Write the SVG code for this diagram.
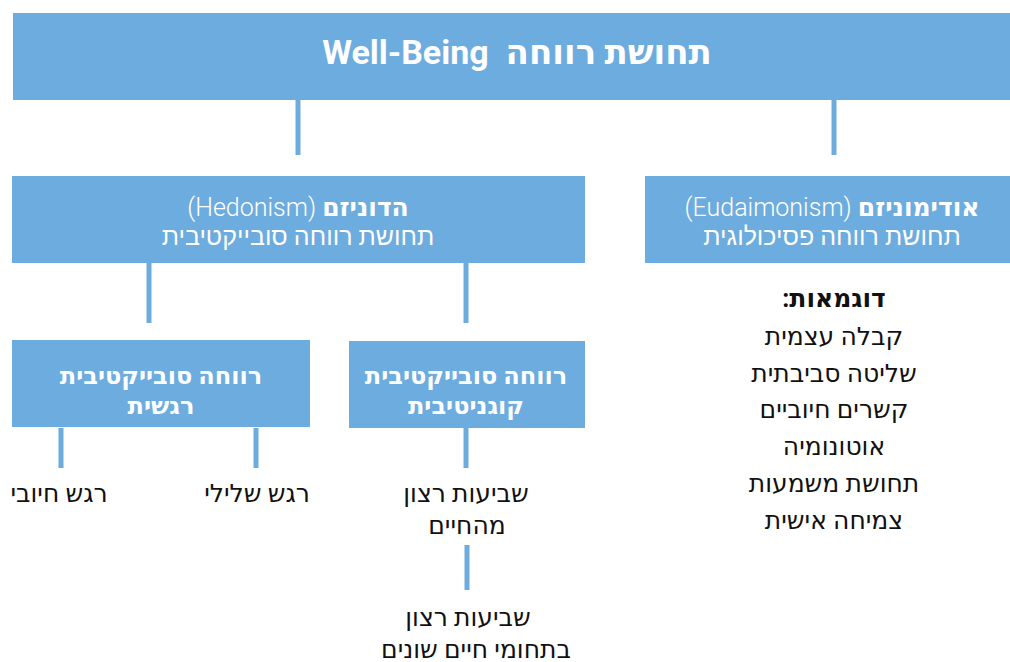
<svg xmlns="http://www.w3.org/2000/svg" width="1010" height="662" viewBox="0 0 1010 662">
<style>
.box{fill:#6DACDE;}
.ln{stroke:#6DACDE;stroke-width:5;fill:none;}
text{font-family:Roboto,"Noto Sans","DejaVu Sans",sans-serif;direction:rtl;text-anchor:middle;}
.w{fill:#fff;}
.b{font-weight:bold;}
.l{font-weight:300;}
.k{fill:#111;font-size:25px;}
</style>
<rect width="1010" height="662" fill="#fff"/>
<g id="connectors">
<line class="ln" x1="298" y1="100" x2="298" y2="155"/>
<line class="ln" x1="834" y1="100" x2="834" y2="155"/>
<line class="ln" x1="149" y1="263" x2="149" y2="323"/>
<line class="ln" x1="466" y1="263" x2="466" y2="323"/>
<line class="ln" x1="61" y1="428" x2="61" y2="468"/>
<line class="ln" x1="256" y1="428" x2="256" y2="468"/>
<line class="ln" x1="466" y1="428" x2="466" y2="468"/>
<line class="ln" x1="467" y1="545" x2="467" y2="590"/>
</g>
<g id="top">
<rect class="box" x="13" y="13" width="997" height="87"/>
<text class="w b" x="517" y="64" font-size="34" xml:space="preserve">תחושת רווחה  Well-Being</text>
</g>
<g id="hedonism">
<rect class="box" x="12" y="176" width="573" height="87"/>
<text class="w l" x="298" y="216" font-size="25"><tspan class="b">הדוניזם</tspan> (Hedonism)</text>
<text class="w l" x="298" y="245" font-size="25">תחושת רווחה סובייקטיבית</text>
</g>
<g id="eudaimonism">
<rect class="box" x="645" y="176" width="365" height="87"/>
<text class="w l" x="832" y="216" font-size="25"><tspan class="b">אודימוניזם</tspan> (Eudaimonism)</text>
<text class="w l" x="832" y="245" font-size="25">תחושת רווחה פסיכולוגית</text>
</g>
<g id="emotional">
<rect class="box" x="12" y="340" width="298" height="87"/>
<text class="w b" x="161" y="384" font-size="24">רווחה סובייקטיבית</text>
<text class="w b" x="161" y="414" font-size="24">רגשית</text>
</g>
<g id="cognitive">
<rect class="box" x="349" y="341" width="236" height="87"/>
<text class="w b" x="466" y="384" font-size="24">רווחה סובייקטיבית</text>
<text class="w b" x="466" y="414" font-size="24">קוגניטיבית</text>
</g>
<g id="positive">
<text class="k" x="59" y="502">רגש חיובי</text>
</g>
<g id="negative">
<text class="k" x="257" y="502">רגש שלילי</text>
</g>
<g id="life-satisfaction">
<text class="k" x="466" y="502">שביעות רצון</text>
<text class="k" x="467" y="534">מהחיים</text>
</g>
<g id="domain-satisfaction">
<text class="k" x="468" y="626">שביעות רצון</text>
<text class="k" x="476" y="658">בתחומי חיים שונים</text>
</g>
<g id="examples">
<text class="k b" x="834" y="307">דוגמאות:</text>
<text class="k" x="834" y="345">קבלה עצמית</text>
<text class="k" x="834" y="382">שליטה סביבתית</text>
<text class="k" x="834" y="418">קשרים חיוביים</text>
<text class="k" x="834" y="455">אוטונומיה</text>
<text class="k" x="834" y="492">תחושת משמעות</text>
<text class="k" x="834" y="529">צמיחה אישית</text>
</g>
</svg>
